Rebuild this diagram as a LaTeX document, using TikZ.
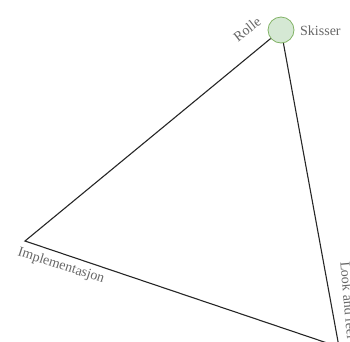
\documentclass[tikz,border=0pt]{standalone}
\usepackage{fontspec}
\setmainfont{Liberation Serif}
\begin{document}
\begin{tikzpicture}[x=1pt,y=-1pt,
  edge/.style={draw=black!85,line width=1.1pt},
  lbl/.style={text=black!60,font=\fontsize{14}{16}\selectfont,inner sep=0pt}]
\useasboundingbox (0,0) rectangle (350,341);
\clip (0,0) rectangle (350,341);
\node[circle,draw={rgb,255:red,130;green,179;blue,102},fill={rgb,255:red,213;green,232;blue,212},line width=0.8pt,minimum size=26pt,inner sep=0pt] (top) at (281,30) {};
\coordinate (left) at (25,241);
\coordinate (bot) at (339,347);
\draw[edge] (top) -- (left) -- (bot) -- (top);
\node[lbl,rotate=38] (rolle) at (247,29) {Rolle};
\node[lbl,anchor=west] (skisser) at (300,31) {Skisser};
\node[lbl,rotate=-18] (impl) at (61,266) {Implementasjon};
\node[lbl,rotate=-85,anchor=south west] (look) at (340,262) {Look and feel};
\end{tikzpicture}
\end{document}
